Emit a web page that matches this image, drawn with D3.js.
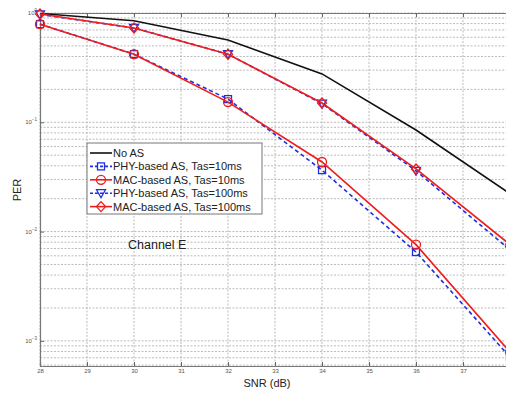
<!DOCTYPE html>
<html>
<head>
<meta charset="utf-8">
<script src="https://cdn.jsdelivr.net/npm/d3@7"></script>
<style>
  body { margin: 0; background: #fff; }
  svg { display: block; font-family: "Liberation Sans", Arial, sans-serif; }
</style>
</head>
<body>
<div id="chart"></div>
<script>
// data
const snr = [28, 30, 32, 34, 36, 38];
const xTicks = [28, 29, 30, 31, 32, 33, 34, 35, 36, 37];
const yDecades = [1, 0.1, 0.01, 0.001];

const noAS   = [0.99, 0.85, 0.566, 0.277, 0.085, 0.0222];
const phy10  = [0.79, 0.42, 0.163, 0.0365, 0.0065, 0.00071];
const mac10  = [0.79, 0.42, 0.153, 0.0433, 0.0076, 0.00079];
const phy100 = [0.97, 0.73, 0.42, 0.148, 0.036, 0.0068];
const mac100 = [0.98, 0.73, 0.42, 0.15, 0.0374, 0.0076];

const series = [
  { name: 'No AS', values: noAS, color: '#111', dash: null, marker: null },
  { name: 'PHY-based AS, Tas=10ms', values: phy10, color: '#1f2fe0', dash: '4,3', marker: 'square' },
  { name: 'MAC-based AS, Tas=10ms', values: mac10, color: '#ee1c1c', dash: null, marker: 'circle' },
  { name: 'PHY-based AS, Tas=100ms', values: phy100, color: '#1f2fe0', dash: '4,3', marker: 'triangle' },
  { name: 'MAC-based AS, Tas=100ms', values: mac100, color: '#ee1c1c', dash: null, marker: 'diamond' }
];

const width = 506, height = 396;
const m = { left: 40, right: 510, top: 13, bottom: 366 };

const svg = d3.select('#chart').append('svg')
  .attr('width', width)
  .attr('height', height);

const x = d3.scaleLinear().domain([28, 38]).range([m.left, m.right]);
const y = d3.scaleLog().domain([Math.pow(10, -3.23), 1]).range([m.bottom, m.top]);

// grid
const minor = [];
[0.0001, 0.001, 0.01, 0.1].forEach(d => {
  for (let k = 1; k <= 9; k++) {
    const v = d * k;
    if (v >= y.domain()[0] && v <= 1) minor.push(v);
  }
});
minor.push(1);

const grid = svg.append('g');
grid.selectAll('line.h').data(minor).join('line')
  .attr('x1', m.left).attr('x2', m.right)
  .attr('y1', d => y(d)).attr('y2', d => y(d))
  .attr('stroke', '#aaa').attr('stroke-width', 0.8)
  .attr('stroke-dasharray', '2,1.5');
grid.selectAll('line.v').data(xTicks).join('line')
  .attr('x1', d => x(d)).attr('x2', d => x(d))
  .attr('y1', m.top).attr('y2', m.bottom)
  .attr('stroke', '#aaa').attr('stroke-width', 0.8)
  .attr('stroke-dasharray', '2,1.5');

// axes
const xAxis = d3.axisBottom(x).tickValues(xTicks).tickSize(-4).tickPadding(3);
const gx = svg.append('g')
  .attr('transform', `translate(0,${m.bottom})`)
  .call(xAxis);
gx.select('.domain').attr('stroke', '#777').attr('stroke-width', 1.2);
gx.selectAll('.tick line').attr('stroke', '#666');
gx.selectAll('text').attr('font-size', 6).attr('fill', '#555');

const xTop = d3.axisTop(x).tickValues(xTicks).tickSize(-4).tickFormat('');
const gxt = svg.append('g').attr('transform', `translate(0,${m.top})`).call(xTop);
gxt.select('.domain').attr('stroke', '#777');
gxt.selectAll('.tick line').attr('stroke', '#666');

const yAxis = d3.axisLeft(y).tickValues(yDecades).tickSize(-4).tickFormat('');
const gy = svg.append('g').attr('transform', `translate(${m.left},0)`).call(yAxis);
gy.select('.domain').attr('stroke', '#777').attr('stroke-width', 1.2);
gy.selectAll('.tick line').attr('stroke', '#666');

const yLab = svg.append('g').selectAll('text').data(yDecades).join('text')
  .attr('x', m.left - 3)
  .attr('y', d => y(d) + 2)
  .attr('text-anchor', 'end')
  .attr('font-size', 6)
  .attr('fill', '#555');
yLab.append('tspan').text('10');
yLab.append('tspan').attr('dy', -3).attr('font-size', 4.5)
  .text(d => String(Math.round(Math.log10(d))).replace('-', '\u2212'));

// lines
const line = d3.line().x((d, i) => x(snr[i])).y(d => y(d));

function drawMarker(g, type, cx, cy, color) {
  if (type === 'square') {
    g.append('rect').attr('x', cx - 3.5).attr('y', cy - 3.5).attr('width', 7).attr('height', 7)
      .attr('fill', 'none').attr('stroke', color).attr('stroke-width', 1.3);
  } else if (type === 'circle') {
    g.append('circle').attr('cx', cx).attr('cy', cy).attr('r', 4.5)
      .attr('fill', 'none').attr('stroke', color).attr('stroke-width', 1.3);
  } else if (type === 'triangle') {
    g.append('path').attr('d', `M${cx - 4.5},${cy - 3.5}L${cx + 4.5},${cy - 3.5}L${cx},${cy + 4.5}Z`)
      .attr('fill', 'none').attr('stroke', color).attr('stroke-width', 1.3);
  } else if (type === 'diamond') {
    g.append('path').attr('d', `M${cx},${cy - 5}L${cx + 4.5},${cy}L${cx},${cy + 5}L${cx - 4.5},${cy}Z`)
      .attr('fill', 'none').attr('stroke', color).attr('stroke-width', 1.3);
  }
}

const plot = svg.append('g');
series.forEach(s => {
  plot.append('path')
    .datum(s.values)
    .attr('d', line)
    .attr('fill', 'none')
    .attr('stroke', s.color)
    .attr('stroke-width', 1.6)
    .attr('stroke-dasharray', s.dash);
  if (s.marker) {
    s.values.forEach((v, i) => drawMarker(plot, s.marker, x(snr[i]), y(v), s.color));
  }
});

// labels
svg.append('text')
  .attr('x', 267).attr('y', 387)
  .attr('text-anchor', 'middle')
  .attr('font-size', 11).attr('fill', '#222')
  .text('SNR (dB)');

svg.append('text')
  .attr('transform', 'translate(21,190) rotate(-90)')
  .attr('text-anchor', 'middle')
  .attr('font-size', 11).attr('fill', '#222')
  .text('PER');

svg.append('text')
  .attr('x', 128).attr('y', 249)
  .attr('font-size', 12.5).attr('fill', '#222')
  .text('Channel E');

// legend
const legend = svg.append('g');
legend.append('rect')
  .attr('x', 87).attr('y', 143).attr('width', 175).attr('height', 71)
  .attr('fill', '#fff').attr('stroke', '#777').attr('stroke-width', 1);
series.forEach((s, i) => {
  const ly = 153 + i * 13.4;
  legend.append('line')
    .attr('x1', 90).attr('x2', 112).attr('y1', ly).attr('y2', ly)
    .attr('stroke', s.color).attr('stroke-width', 1.6)
    .attr('stroke-dasharray', s.dash ? '3,2' : null);
  if (s.marker) drawMarker(legend, s.marker, 101, ly, s.color);
  legend.append('text')
    .attr('x', 113).attr('y', ly + 4)
    .attr('font-size', 11).attr('fill', '#222')
    .text(s.name);
});
</script>
</body>
</html>
